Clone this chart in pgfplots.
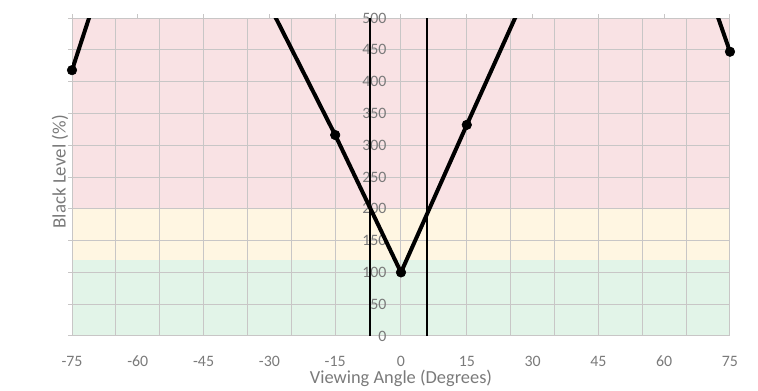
\documentclass[border=0pt]{standalone}
\usepackage{fontspec}
\setmainfont{Carlito}
\usepackage{pgfplots}
\usepackage{pgfplotstable}
\pgfplotsset{compat=1.18}
\definecolor{txt}{RGB}{122,122,122}
\definecolor{gridc}{RGB}{200,198,198}
\definecolor{bred}{RGB}{249,226,228}
\definecolor{byel}{RGB}{255,246,226}
\definecolor{bgrn}{RGB}{226,244,232}
\pgfplotstableread{
x y
-75 418
-60 735
-45 800
-30 520
-15 316
0 100
15 332
30 561
45 800
60 744
75 447
}\blackdata
\pgfplotstableread{
x y
-75 418
-15 316
0 100
15 332
75 447
}\markdata
\begin{document}
\begin{tikzpicture}
\begin{axis}[
  set layers,
  at={(54pt,40.5pt)}, anchor=south west,
  scale only axis, width=493.5pt, height=238.5pt,
  xmin=-75, xmax=75, ymin=0, ymax=500,
  clip mode=individual,
  xtick={-75,-60,...,75},
  ytick={0,50,...,500},
  extra x ticks={-75,-65,-55,-45,-35,-25,-15,0,15,25,35,45,55,65,75},
  extra x tick labels={},
  extra x tick style={grid=major, major tick length=0pt},
  ymajorgrids=true,
  major grid style={gridc, line width=0.75pt},
  axis line style={gridc, line width=0.75pt},
  xtick pos=right, xticklabel pos=left,
  ytick pos=left,
  tick align=outside, major tick length=3pt,
  tick style={gridc, line width=0.75pt},
  /pgf/number format/assume math mode=true,
  xticklabel style={font=\fontsize{11.9}{12}\selectfont, text=txt, inner sep=0pt, anchor=base, yshift=-19.8pt},
  yticklabel style={font=\fontsize{11.9}{12}\selectfont, text=txt, inner sep=0pt, anchor=east, xshift=239pt},
  xlabel={Viewing Angle (Degrees)},
  xlabel style={at={(axis description cs:0.5,0)}, anchor=base, yshift=-35.5pt, font=\fontsize{13.8}{14}\selectfont, text=txt},
  ylabel={Black Level (\%)},
  ylabel style={at={(axis description cs:-0.0182,0.516)}, anchor=center, font=\fontsize{14.2}{14}\selectfont, text=txt},
]
\begin{pgfonlayer}{axis background}
\fill[bgrn] (axis cs:-75,0) rectangle (axis cs:75,120);
\fill[byel] (axis cs:-75,120) rectangle (axis cs:75,200);
\fill[bred] (axis cs:-75,200) rectangle (axis cs:75,500);
\end{pgfonlayer}
\addplot[black, line width=1.5pt] coordinates {(-7,0)(-7,500)};
\addplot[black, line width=1.5pt] coordinates {(6,0)(6,500)};
\addplot[black, line width=3pt, no markers, line join=round] table {\blackdata};
\addplot[black, only marks, mark=*, mark size=3.6pt] table {\markdata};
\end{axis}
\path (0,0) rectangle (568.5pt,292.5pt);
\end{tikzpicture}
\end{document}
